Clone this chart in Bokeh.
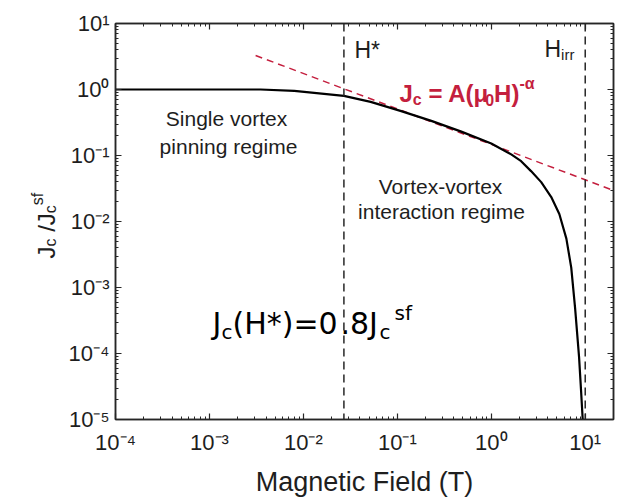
import math
from bokeh.plotting import figure
from bokeh.layouts import row
from bokeh.models import (LogAxis, FixedTicker, Span, Label, Range1d,
                          CustomJSTickFormatter)
from bokeh.embed import file_html
from bokeh.resources import INLINE

# ---------------- data ----------------
field_T = [1e-4, 1e-3, 3.5e-3, 8e-3, 0.027, 0.052, 0.11, 0.23, 0.48, 1.0,
           1.63, 2.08, 2.65, 3.4, 4.35, 5.3, 6.3, 7.1, 7.8, 8.6, 9.05, 9.4]
jc_ratio = [1.0, 1.0, 1.0, 0.955, 0.8, 0.65, 0.47, 0.335, 0.23, 0.152,
            0.104, 0.082, 0.058, 0.0395, 0.0235, 0.013, 0.0055, 0.002,
            4.9e-4, 8.8e-5, 2.6e-5, 1e-5]
fit_field = [0.0031, 20.0]
fit_ratio = [3.28, 0.0295]
h_star = 0.027
h_irr = 10.0
x_ticks = [1e-4, 1e-3, 1e-2, 1e-1, 1e0, 1e1]
y_ticks = [1e-5, 1e-4, 1e-3, 1e-2, 1e-1, 1e0, 1e1]
x_limits = [1e-4, 20.0]
y_limits = [1e-5, 10.0]

# ---------------- layout ----------------
TOTAL_W, TOTAL_H = 617, 499
LW = 60                       # strip holding the y-axis title
W, H = TOTAL_W - LW, TOTAL_H
FRAME_L, FRAME_R, FRAME_T, FRAME_B = 115, 613, 23, 423   # page pixels
BL, BR, BT, BB = FRAME_L - LW, TOTAL_W - FRAME_R, FRAME_T, TOTAL_H - FRAME_B

AX = "#262626"
TXT = "#1e1e1e"
RED = "#c41f3e"
ARIAL = "Liberation Sans"

p = figure(width=W, height=H, x_axis_type="log", y_axis_type="log",
           x_range=Range1d(*x_limits), y_range=Range1d(*y_limits),
           output_backend="svg", toolbar_location=None,
           min_border_left=BL, min_border_right=BR,
           min_border_top=BT, min_border_bottom=BB)
p.xgrid.visible = False
p.ygrid.visible = False
p.outline_line_color = AX
p.outline_line_width = 1.5
p.background_fill_color = "white"
p.border_fill_color = "white"


def minors(ticks):
    out = []
    for t in ticks:
        for m in range(2, 10):
            out.append(t * m)
    return out


sup_js = """
const sup = {"-":"\\u207b","0":"\\u2070","1":"\\u00b9","2":"\\u00b2","3":"\\u00b3",
             "4":"\\u2074","5":"\\u2075","6":"\\u2076","7":"\\u2077","8":"\\u2078","9":"\\u2079"};
const e = Math.round(Math.log10(tick));
return "10" + String(e).split("").map(c => sup[c]).join("");
"""
blank_js = 'return "";'


def style_axis(ax, ticks, labelled):
    ax.ticker = FixedTicker(ticks=ticks, minor_ticks=minors(ticks))
    ax.formatter = CustomJSTickFormatter(code=sup_js if labelled else blank_js)
    ax.major_tick_in = 6
    ax.major_tick_out = 0
    ax.minor_tick_in = 3
    ax.minor_tick_out = 0
    ax.major_tick_line_color = AX
    ax.minor_tick_line_color = AX
    ax.major_tick_line_width = 1.2
    ax.minor_tick_line_width = 1.0
    ax.axis_line_color = AX
    ax.axis_line_width = 1.5
    ax.major_label_text_font = ARIAL
    ax.major_label_text_color = TXT
    if labelled:
        ax.major_label_text_font_size = "22px"
    else:
        ax.major_label_text_font_size = "0px"
        ax.major_label_standoff = 0


style_axis(p.xaxis[0], x_ticks, True)
style_axis(p.yaxis[0], y_ticks, True)
p.xaxis[0].major_label_standoff = 10
p.yaxis[0].major_label_standoff = 6
p.xaxis[0].axis_label = "Magnetic Field (T)"
p.xaxis[0].axis_label_text_font = ARIAL
p.xaxis[0].axis_label_text_font_size = "27px"
p.xaxis[0].axis_label_text_font_style = "normal"
p.xaxis[0].axis_label_text_color = TXT
p.xaxis[0].axis_label_standoff = 9

top_ax = LogAxis()
right_ax = LogAxis()
style_axis(top_ax, x_ticks, False)
style_axis(right_ax, y_ticks, False)
p.add_layout(top_ax, "above")
p.add_layout(right_ax, "right")

# ---------------- marks ----------------
p.line(fit_field, fit_ratio, line_color=RED, line_width=1.5, line_dash="7 5")
p.line(field_T, jc_ratio, line_color="black", line_width=2.2)
for loc in (h_star, h_irr):
    p.add_layout(Span(location=loc, dimension="height", line_color=AX,
                      line_width=1.5, line_dash="8 5"))

# ---------------- texts ----------------
WID = {
    "arial": {" ": .278, "(": .333, ")": .333, "*": .389, "-": .333, ".": .278,
              "/": .278, "=": .584, "A": .667, "H": .722, "J": .5, "c": .5,
              "f": .278, "i": .222, "r": .333, "s": .5, "0": .556},
    "arialb": {" ": .278, "(": .333, ")": .333, "=": .584, "A": .722, "H": .722,
               "J": .556, "c": .556, "0": .556, "-": .333, "\u03bc": .45,
               "\u03b1": .62},
}


def make_lab(fig, ox, oy, text, X, Y, size, font=ARIAL, color=TXT,
             align="left", bold=False, angle=0.0):
    # X, Y in page pixels; (ox, oy) = page position of the frame's bottom-left
    fig.add_layout(Label(x=X - ox, y=oy - Y, x_units="screen",
                         y_units="screen", text=text, text_font=font,
                         text_font_size=f"{size}px", text_color=color,
                         text_align=align, text_baseline="alphabetic",
                         text_font_style="bold" if bold else "normal",
                         angle=angle))


def run(fig, ox, oy, pieces, X, Y, font, table, color=TXT, bold=False,
        vertical=False):
    # pieces: (text, size, baseline shift down); advance from a width table
    pos = 0.0
    for text, size, dy in pieces:
        lead = len(text) - len(text.lstrip(" "))
        pos += lead * WID[table][" "] * size
        body = text.lstrip(" ")
        w = sum(WID[table].get(ch, .55) for ch in body) * size
        if vertical:
            make_lab(fig, ox, oy, body, X + dy, Y - pos, size, font, color,
                     bold=bold, angle=math.pi / 2)
        else:
            make_lab(fig, ox, oy, body, X + pos, Y + dy, size, font, color,
                     bold=bold)
        pos += w


def lab(*a, **k):
    make_lab(p, FRAME_L, FRAME_B, *a, **k)


lab("Single vortex", 226, 122, 21, align="center")
lab("pinning regime", 228, 150, 21, align="center")
lab("Vortex-vortex", 440, 190, 21, align="center")
lab("interaction regime", 441, 215, 21, align="center")
lab("H*", 354, 53, 23)
run(p, FRAME_L, FRAME_B, [("H", 23, 0), ("irr", 15, 6)], 544, 52, ARIAL, "arial")
run(p, FRAME_L, FRAME_B,
    [("J", 24, 0), ("c", 16, 6), (" = A(\u03bc", 24, 0), ("0", 16, 6),
     ("H)", 24, 0), ("-\u03b1", 16, -10)], 399, 97, ARIAL, "arialb",
    color=RED, bold=True)

# J_c(H*)=0.8J_c^sf  (pieces placed where they sit in the reference)
BIG = "DejaVu Sans"
for text, X, size, Y in [("J", 212, 30, 327), ("c", 221, 20, 335),
                         ("(H*)=0", 232, 30, 327), (".8J", 340, 30, 327),
                         ("c", 379, 20, 335), ("sf", 394, 20, 316)]:
    lab(text, X, Y, size, font=BIG, color="black")

# ---------------- y-axis title strip ----------------
# (frames in a row are aligned, so this strip's frame spans the same rows)
ylab = figure(width=LW, height=H, x_range=Range1d(0, 1), y_range=Range1d(0, 1),
              x_axis_location=None, y_axis_location=None, min_border=0,
              output_backend="svg", toolbar_location=None)
ylab.outline_line_color = None
ylab.xgrid.visible = False
ylab.ygrid.visible = False
run(ylab, 0, FRAME_B,
    [("J", 24, 0), ("c", 16, 4), (" /J", 24, 0), ("c", 16, 4), ("sf", 16, -9)],
    46, 262, ARIAL, "arial", vertical=True)

layout = row(ylab, p)
open("out.html", "w").write(file_html(layout, INLINE))
